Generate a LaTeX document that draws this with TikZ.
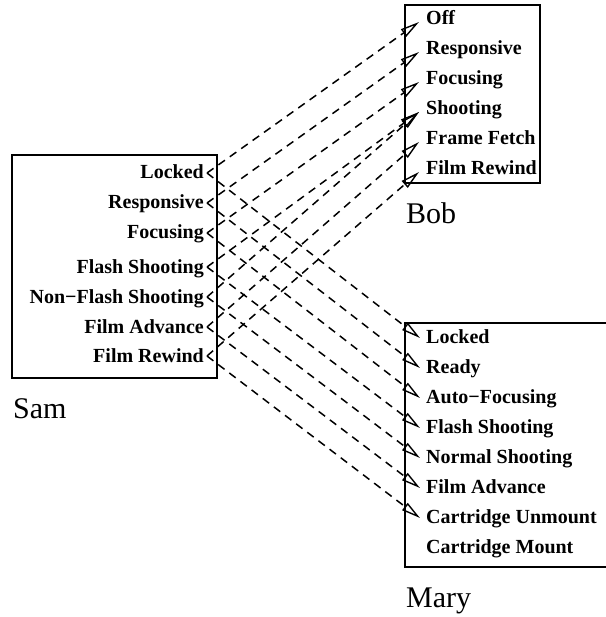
\documentclass[tikz,border=0pt]{standalone}
\usepackage{fontspec}
\setmainfont{Liberation Serif}
\usetikzlibrary{arrows.meta}
\begin{document}
\begin{tikzpicture}[x=1pt,y=-1pt,
  item/.style={inner sep=0pt,font=\bfseries\fontsize{20}{22}\selectfont},
  sitem/.style={item,anchor=base east},
  ritem/.style={item,anchor=base west},
  owner/.style={inner sep=0pt,anchor=base west,font=\fontsize{30}{34}\selectfont},
  frame/.style={draw=black,line width=1.1pt},
  link/.style={draw=black,line width=1.5pt,dash pattern=on 8pt off 6pt,
    -{Triangle[open,length=19pt,width=9pt,line width=1.4pt]}}]
\useasboundingbox (0,0) rectangle (605,617);
% boxes
\draw[frame] (12,155) rectangle (217,378);
\draw[frame] (405,5) rectangle (540,183);
\draw[frame] (405,323) rectangle (607,567);
% owner labels
\node[owner] (sam) at (13,418) {Sam};
\node[owner] (bob) at (406,224) {Bob};
\node[owner] (mary) at (406,607) {Mary};
% Sam items
\foreach \n/\y/\t in {1/173/Locked,2/203/Responsive,3/233/Focusing,4/267/Flash Shooting,5/297/Non\char"2212 Flash Shooting,6/327/Film Advance,7/356/Film Rewind}{
  \coordinate (s\n) at (207,\y);
  \node[sitem] (st\n) at (204,\y+6) {\t};
}
% Bob items
\foreach \n/\t [count=\k from 0] in {1/Off,2/Responsive,3/Focusing,4/Shooting,5/Frame Fetch,6/Film Rewind}{
  \coordinate (b\n) at (419,22+30*\k);
  \node[ritem] (bt\n) at (426,25+30*\k) {\t};
}
% Mary items
\foreach \n/\t [count=\k from 0] in {1/Locked,2/Ready,3/Auto\char"2212 Focusing,4/Flash Shooting,5/Normal Shooting,6/Film Advance,7/Cartridge Unmount,8/Cartridge Mount}{
  \coordinate (m\n) at (420,338+30*\k);
  \node[ritem] (mt\n) at (426,343+30*\k) {\t};
}
% links to Bob
\foreach \a/\b in {1/1,2/2,3/3,4/4,5/4,6/5,7/6}{
  \draw[link] (s\a) -- (b\b);
}
% links to Mary
\foreach \a in {1,...,7}{
  \draw[link] (s\a) -- (m\a);
}
\end{tikzpicture}
\end{document}
